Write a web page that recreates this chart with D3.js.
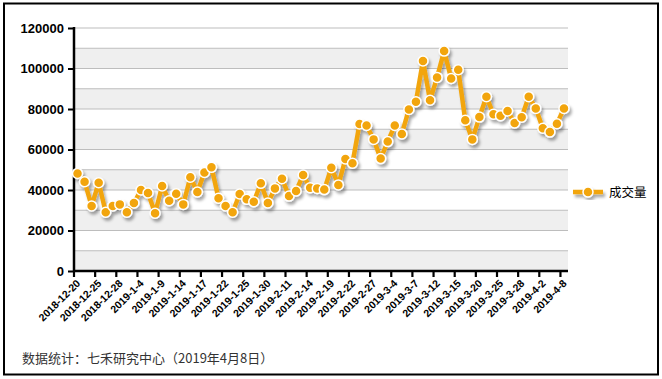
<!DOCTYPE html>
<html><head><meta charset="utf-8">
<script src="https://cdn.jsdelivr.net/npm/d3@7/dist/d3.min.js"></script>
<style>
body{margin:0;padding:0;background:#fff;}
svg{display:block;}
</style></head>
<body>
<svg id="chart" width="662" height="379"></svg>
<script>
const categories = ["2018-12-20","2018-12-21","2018-12-24","2018-12-25","2018-12-26","2018-12-27","2018-12-28",
"2019-1-2","2019-1-3","2019-1-4","2019-1-7","2019-1-8","2019-1-9","2019-1-10","2019-1-11","2019-1-14","2019-1-15","2019-1-16","2019-1-17","2019-1-18","2019-1-21","2019-1-22","2019-1-23","2019-1-24","2019-1-25","2019-1-28","2019-1-29","2019-1-30","2019-1-31",
"2019-2-1","2019-2-11","2019-2-12","2019-2-13","2019-2-14","2019-2-15","2019-2-18","2019-2-19","2019-2-20","2019-2-21","2019-2-22","2019-2-25","2019-2-26","2019-2-27","2019-2-28",
"2019-3-1","2019-3-4","2019-3-5","2019-3-6","2019-3-7","2019-3-8","2019-3-11","2019-3-12","2019-3-13","2019-3-14","2019-3-15","2019-3-18","2019-3-19","2019-3-20","2019-3-21","2019-3-22","2019-3-25","2019-3-26","2019-3-27","2019-3-28","2019-3-29",
"2019-4-1","2019-4-2","2019-4-3","2019-4-4","2019-4-8"];
const volume = [48200,44100,32100,43600,29000,32100,32900,29000,33600,40000,
38500,28500,42000,34700,38200,32900,46300,39000,48700,51200,
35900,32100,29000,38000,35400,34200,43300,33600,40800,45600,
37000,39500,47400,41100,40800,40200,51000,42500,55300,53200,
72600,71900,65000,55500,63900,71900,67700,79800,83600,103700,
84300,95600,108600,95100,99400,74400,65000,76000,86100,77400,
76700,79000,73100,75900,86100,80300,70500,68600,72700,80300];
const yTicks = [0,20000,40000,60000,80000,100000,120000];
const tickLabels = categories.filter((d,i)=>i%3===0);
const seriesName = "成交量";
const footnote = "数据统计：七禾研究中心（2019年4月8日）";

const svg = d3.select("#chart");
const L = 74, R = 567.5, T = 28, B = 271, axisEnd = 568;
const orange = "#F2A50C";

const defs = svg.append("defs");
const f = defs.append("filter").attr("id","shadow").attr("x","-10%").attr("y","-10%").attr("width","130%").attr("height","140%");
f.append("feDropShadow").attr("dx",2).attr("dy",3).attr("stdDeviation",1.4).attr("flood-color","#000").attr("flood-opacity",0.35);

// border
svg.append("rect").attr("x",4).attr("y",3.5).attr("width",654).attr("height",371)
  .attr("fill","#fff").attr("stroke","#000").attr("stroke-width",2);

const x = d3.scaleBand().domain(categories).range([L,R]).padding(0);
const y = d3.scaleLinear().domain([0,120000]).range([B,T]);

// bands
const bandVals = d3.range(0,120000,10000);
svg.append("g").selectAll("rect").data(bandVals).join("rect")
  .attr("x",L).attr("width",axisEnd-L)
  .attr("y",d=>y(d+10000)).attr("height",d=>y(d)-y(d+10000))
  .attr("fill",(d,i)=> (i%2===0) ? "#efefef" : "#ffffff");
// gridlines
svg.append("g").selectAll("line").data(d3.range(10000,130000,10000)).join("line")
  .attr("x1",L).attr("x2",axisEnd).attr("y1",d=>y(d)).attr("y2",d=>y(d))
  .attr("stroke","#bdbdbd").attr("stroke-width",1);

// y axis
const yAxis = d3.axisLeft(y).tickValues(yTicks).tickSize(6).tickPadding(4).tickFormat(d3.format("d"));
const gy = svg.append("g").attr("transform",`translate(${L},0)`).call(yAxis);
gy.select(".domain").remove();
gy.selectAll(".tick line").attr("stroke","#000").attr("stroke-width",2);
gy.selectAll(".tick text").attr("font-family","Arial, 'Liberation Sans', sans-serif").attr("font-size",13).attr("font-weight","bold").attr("fill","#000");
svg.append("line").attr("x1",L).attr("x2",L).attr("y1",T-1).attr("y2",B+1).attr("stroke","#000").attr("stroke-width",2.5);

// x axis
const xAxis = d3.axisBottom(x).tickValues(tickLabels).tickSize(6).tickSizeOuter(0);
const gx = svg.append("g").attr("transform",`translate(0,${B})`).call(xAxis);
gx.select(".domain").remove();
gx.selectAll(".tick").attr("transform",d=>`translate(${x(d)},0)`);
gx.selectAll(".tick line").attr("stroke","#000").attr("stroke-width",2.2);
gx.selectAll(".tick text")
  .attr("font-family","Arial, 'Liberation Sans', sans-serif").attr("font-size",10.5).attr("font-weight","bold").attr("fill","#000")
  .attr("text-anchor","end").attr("dy",null).attr("y",0)
  .attr("transform","translate(7,13) rotate(-45)");
svg.append("line").attr("x1",L-1).attr("x2",axisEnd).attr("y1",B).attr("y2",B).attr("stroke","#000").attr("stroke-width",2.5);

// series
const cx = d => x(d) + x.bandwidth()/2;
const data = categories.map((c,i)=>({c, v:volume[i]}));
const g = svg.append("g").attr("filter","url(#shadow)");
g.append("path").datum(data)
  .attr("d", d3.line().x(d=>cx(d.c)).y(d=>y(d.v)))
  .attr("fill","none").attr("stroke",orange).attr("stroke-width",4.5).attr("stroke-linejoin","round");
g.selectAll("circle").data(data).join("circle")
  .attr("cx",d=>cx(d.c)).attr("cy",d=>y(d.v)).attr("r",5)
  .attr("fill",orange).attr("stroke","#fff").attr("stroke-width",1.5);

// legend
const lg = svg.append("g");
const lgs = lg.append("g").attr("filter","url(#shadow)");
lgs.append("line").attr("x1",573).attr("x2",603).attr("y1",192).attr("y2",192).attr("stroke",orange).attr("stroke-width",4.5);
lgs.append("circle").attr("cx",588).attr("cy",192).attr("r",5).attr("fill",orange).attr("stroke","#fff").attr("stroke-width",1.5);
lg.append("text").attr("x",609).attr("y",196.5).text(seriesName)
  .attr("font-family","'Noto Sans CJK SC', sans-serif").attr("font-size",12.5).attr("fill","#000");

// footnote
svg.append("text").attr("x",22).attr("y",363).text(footnote)
  .attr("font-family","'Noto Sans CJK SC', sans-serif").attr("font-size",13).attr("fill","#333");
</script>
</body></html>
